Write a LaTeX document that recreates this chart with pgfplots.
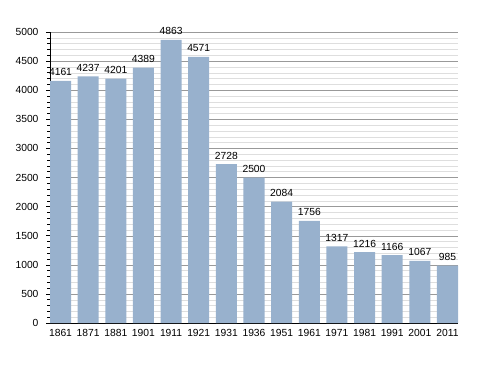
\documentclass[border=0pt]{standalone}
\usepackage{fontspec}
\setmainfont{Liberation Sans}
\usepackage{pgfplots}
\pgfplotsset{compat=1.18}
\definecolor{barc}{RGB}{152,177,205}
\begin{document}
\begin{tikzpicture}[x=1pt,y=1pt]
\useasboundingbox (0,0) rectangle (488,373);
\begin{axis}[at={(50pt,50pt)}, anchor=south west, scale only axis,
  width=408pt, height=291pt,
  xmin=-0.38, xmax=14.38, ymin=0, ymax=5000,
  ybar, bar width=0.76,
  xtick=data,
  xticklabels={1861,1871,1881,1901,1911,1921,1931,1936,1951,1961,1971,1981,1991,2001,2011},
  x tick style={draw=none},
  ytick={0,500,...,5000}, minor y tick num=4,
  ymajorgrids, yminorgrids,
  major grid style={black!40},
  minor grid style={black!13},
  axis x line*=bottom, axis y line*=left,
  axis line style={black, line width=0.8pt},
  tick align=outside, y tick style={black, line width=0.5pt},
  major tick length=4pt, minor tick length=3pt,
  /pgf/number format/1000 sep={},
  /pgf/number format/assume math mode=true,
  ticklabel style={font=\fontsize{10.3}{12}\selectfont},
  yticklabel style={xshift=-4pt},
  xticklabel style={yshift=1pt},
  nodes near coords,
  every node near coord/.append style={font=\fontsize{10.3}{12}\selectfont, black, yshift=1.5pt},
  clip=false,
]
\addplot[fill=barc, draw=none] coordinates {
(0,4161) (1,4237) (2,4201) (3,4389) (4,4863) (5,4571) (6,2728) (7,2500)
(8,2084) (9,1756) (10,1317) (11,1216) (12,1166) (13,1067) (14,985)};
\end{axis}
\end{tikzpicture}
\end{document}
